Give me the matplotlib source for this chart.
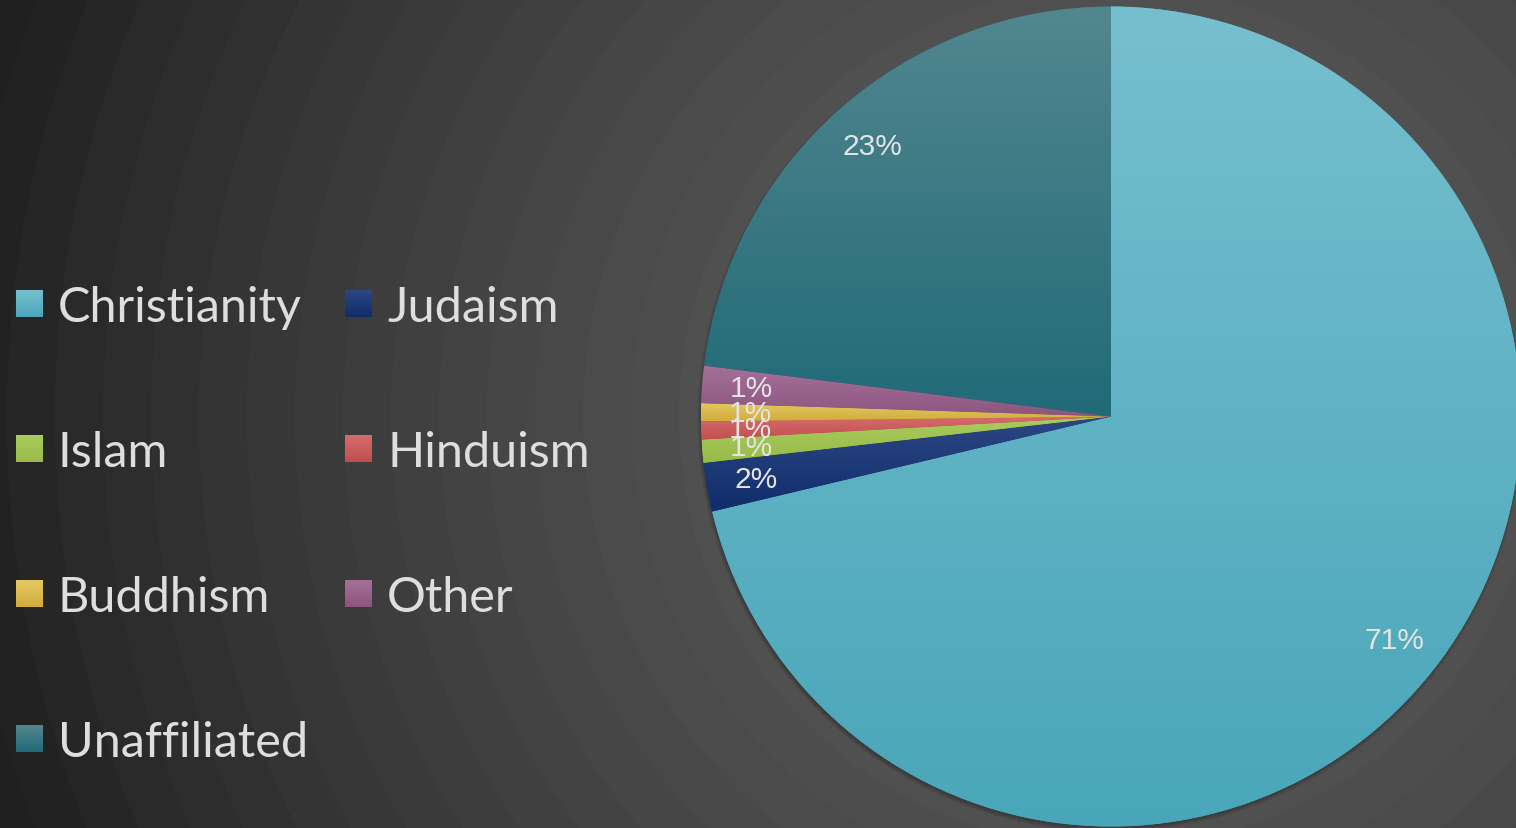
import numpy as np
import matplotlib
matplotlib.use('Agg')
import matplotlib.pyplot as plt
from matplotlib.colors import LinearSegmentedColormap
from matplotlib.patches import Circle

categories = ['Christianity', 'Judaism', 'Islam', 'Hinduism', 'Buddhism', 'Other', 'Unaffiliated']
values = [70.6, 1.9, 0.9, 0.7, 0.7, 1.45, 22.8]
top_colors = ['#76bfcf', '#2d4784', '#aacb5e', '#d66c6c', '#e4c962', '#a47098', '#52878f']
bottom_colors = ['#49a6b9', '#102d6b', '#98bb48', '#c24e4e', '#d2ac3c', '#8c5580', '#216a78']

W, H = 1516, 829
fig = plt.figure(figsize=(W / 100, H / 100), dpi=100)
ax = fig.add_axes([0, 0, 1, 1])

# background: stepped radial gradient
yy, xx = np.mgrid[0:H, 0:W] + 0.5
cx_img, cy_img = 1111, 417.5
d = np.hypot(xx - cx_img, yy - cy_img)
dq = np.floor(d / 48) * 48 + 24
v = np.interp(dq, [0, 410, 486, 663, 845, 1024, 1120, 1300],
              [82, 80, 76, 67, 55, 43, 35, 27]) / 255
ax.imshow(np.dstack([v, v, v]), extent=(0, W, 0, H), zorder=0, interpolation='bilinear')

center = (1111, H - 417.5)
R = 410

# soft shadow (mostly below the pie)
for k in range(5):
    ax.add_patch(Circle((center[0] - 1, center[1] - 3), R - 1 + k * 0.9, color='black',
                        alpha=0.05, lw=0, zorder=0.5))

wedges, texts, autotexts = ax.pie(
    values, startangle=90, counterclock=False, center=center, radius=R,
    autopct='%.0f%%', pctdistance=0.88, colors=bottom_colors,
    wedgeprops=dict(linewidth=0),
    textprops=dict(color='#e4e4e4', fontsize=21.5, family='Liberation Sans'))

for w, tc, bc in zip(wedges, top_colors, bottom_colors):
    w.set_zorder(1)
    verts = w.get_path().vertices
    x0, x1 = verts[:, 0].min(), verts[:, 0].max()
    y0, y1 = verts[:, 1].min(), verts[:, 1].max()
    cmap = LinearSegmentedColormap.from_list('g', [bc, tc])
    grad = np.linspace(1, 0, 256)[:, None]
    im = ax.imshow(grad, cmap=cmap, vmin=0, vmax=1, extent=(x0, x1, y0, y1),
                   aspect='auto', interpolation='bilinear', zorder=1.5)
    im.set_clip_path(w)

for t in autotexts:
    t.set_zorder(3)

# legend
for i, (cat, tc, bc) in enumerate(zip(categories, top_colors, bottom_colors)):
    row, col = divmod(i, 2)
    sx = [16, 345][col]
    cy = 304 + 145 * row
    s = 27
    cmap = LinearSegmentedColormap.from_list('g', [bc, tc])
    grad = np.linspace(1, 0, 64)[:, None]
    ax.imshow(grad, cmap=cmap, vmin=0, vmax=1,
              extent=(sx, sx + s, H - cy - s / 2, H - cy + s / 2),
              aspect='auto', interpolation='bilinear', zorder=2)
    ax.text(sx + 42, H - (cy + 18), cat, fontsize=35, family='Lato',
            color='#dedede', va='baseline', ha='left', zorder=3)

ax.set_xlim(0, W)
ax.set_ylim(0, H)
ax.set_aspect('auto')
ax.axis('off')
fig.savefig('out.png', dpi=100)
